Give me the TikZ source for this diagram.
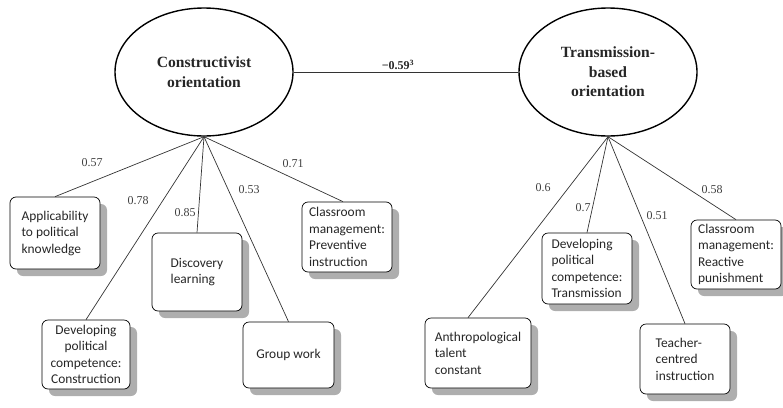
\documentclass[tikz,border=0pt]{standalone}
\usepackage{fontspec}
\setmainfont{Liberation Serif}
\newfontfamily\boxfont{Carlito}
\usetikzlibrary{shapes.geometric,shadows}
\tikzset{
  latent/.style={ellipse, draw, line width=1.4pt, minimum width=178pt, minimum height=128pt,
    inner sep=0pt, align=center, font=\fontsize{15.6}{19.5}\selectfont\bfseries, text=black!85},
  obsbox/.style={draw, rounded corners=6pt, fill=white, line width=0.7pt,
    drop shadow={shadow xshift=7pt, shadow yshift=-7pt, fill=black!45, opacity=0.7},
    inner sep=2pt, font=\boxfont\fontsize{13.4}{16.5}\selectfont, text=black!85},
  conn/.style={draw=black!80, line width=0.7pt},
  coef/.style={font=\fontsize{12}{14}\selectfont, text=black!75, inner sep=0pt},
}
\begin{document}
\begin{tikzpicture}[x=1pt,y=-1pt]
\useasboundingbox (0,0) rectangle (783,407);
% latent variables
\node[latent] (C) at (204,72) {Constructivist\\orientation};
\node[latent] (T) at (608,72) {Transmission-\\based\\orientation};
% observed indicators, left
\node[obsbox, minimum width=90pt, minimum height=72pt, align=left] (A) at (55,233) {Applicability\\to political\\knowledge};
\node[obsbox, minimum width=90pt, minimum height=78pt, align=left] (D) at (197,272) {Discovery\\learning};
\node[obsbox, minimum width=88pt, minimum height=69pt, align=center] (K) at (86,354.5) {Developing\\political\\competence:\\Construction};
\node[obsbox, minimum width=91pt, minimum height=66pt, align=center] (G) at (288.5,355) {Group work};
\node[obsbox, minimum width=90pt, minimum height=70pt, align=left] (P) at (347,237) {Classroom\\management:\\Preventive\\instruction};
% observed indicators, right
\node[obsbox, minimum width=90pt, minimum height=71pt, align=left] (R) at (587,268.5) {Developing\\political\\competence:\\Transmission};
\node[obsbox, minimum width=90pt, minimum height=69pt, align=left] (M) at (736,254.5) {Classroom\\management:\\Reactive\\punishment};
\node[obsbox, minimum width=106pt, minimum height=70pt, align=left] (N) at (478,353) {Anthropological\\talent\\constant};
\node[obsbox, minimum width=90pt, minimum height=70pt, align=left] (E) at (685,359) {Teacher-\\centred\\instruction};
% correlation
\draw[conn] (C.east) -- (T.west);
\node[font=\fontsize{12}{14}\selectfont\bfseries, text=black!85, inner sep=0pt] (r) at (398,65) {−0.59\textsuperscript{3}};
% loadings
\draw[conn] (C.south) -- (A.north);
\draw[conn] (C.south) -- (K.north);
\draw[conn] (C.south) -- (D.north);
\draw[conn] (C.south) -- (G.north);
\draw[conn] (C.south) -- ([xshift=-4pt]P.north);
\draw[conn] (T.south) -- ([xshift=-10pt]N.north);
\draw[conn] (T.south) -- (R.north);
\draw[conn] (T.south) -- (E.north);
\draw[conn] (T.south) -- (M.north);
% coefficients
\node[coef] (l1) at (92,163) {0.57};
\node[coef] (l2) at (138,201) {0.78};
\node[coef] (l3) at (185,213) {0.85};
\node[coef] (l4) at (249,190) {0.53};
\node[coef] (l5) at (293,164) {0.71};
\node[coef] (l6) at (543,188) {0.6};
\node[coef] (l7) at (583,208) {0.7};
\node[coef] (l8) at (657,216) {0.51};
\node[coef] (l9) at (712,190) {0.58};
\end{tikzpicture}
\end{document}
